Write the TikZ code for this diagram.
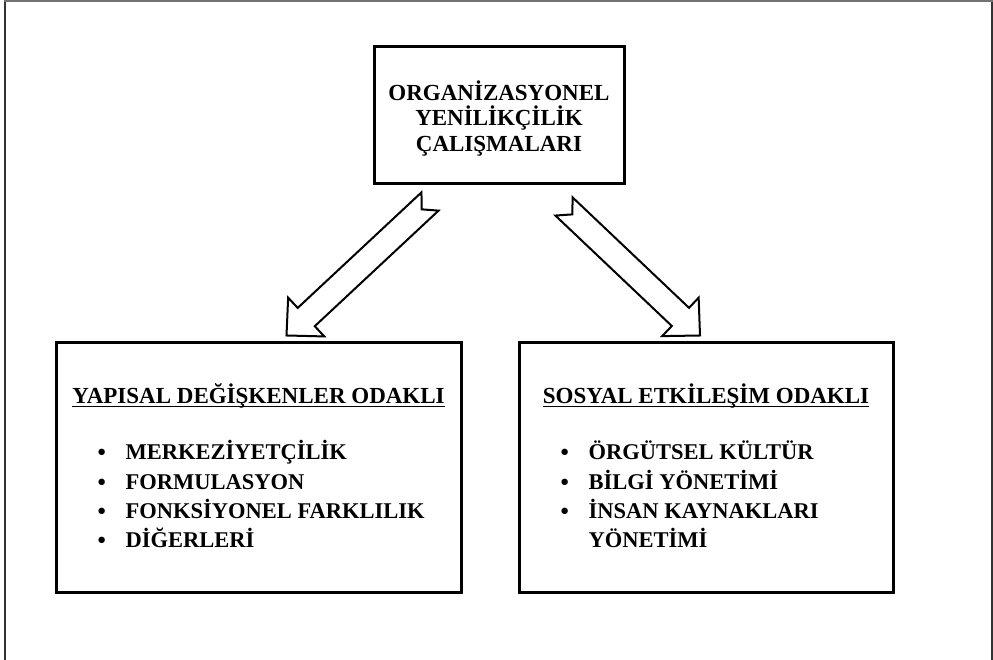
\documentclass[tikz,border=0pt]{standalone}
\usepackage{fontspec}
\setmainfont{Liberation Serif}
\usetikzlibrary{calc,positioning}

\tikzset{
  box/.style={draw=black, line width=3pt, fill=white, inner sep=0pt},
  boxtext/.style={font=\bfseries\fontsize{23}{25.8}\selectfont, align=center},
  heading/.style={font=\bfseries\fontsize{23}{27}\selectfont, inner sep=0pt, anchor=base},
  itemlist/.style={font=\bfseries\fontsize{22.5}{29.3}\selectfont, inner sep=0pt, anchor=base west},
  underline/.style={black, line width=1.5pt},
  blockarrow/.style={draw=black, line width=2pt, line join=miter, fill=white},
  frame/.style={line width=2pt, black!80},
}

% list bullet, centred on the capitals
\newcommand{\dotitem}{\raisebox{3pt}{\scalebox{0.8}{$\bullet$}}}

% notched block arrow from tail #1 to tip #2
\newcommand{\notchedarrow}[2]{%
  \coordinate (#1-head) at ($(#2)!27pt!(#1)$);
  \draw[blockarrow] ($(#1)!12.5pt!90:(#2)$) -- ($(#1)!11.5pt!(#2)$) -- ($(#1)!12.5pt!-90:(#2)$)
    -- ($(#1-head)!12.5pt!-90:(#2)$) -- ($(#1-head)!26.5pt!-90:(#2)$) -- (#2)
    -- ($(#1-head)!26.5pt!90:(#2)$) -- ($(#1-head)!12.5pt!90:(#2)$) -- cycle;
}

\begin{document}
\begin{tikzpicture}[x=1pt, y=1pt]
\useasboundingbox (0,0) rectangle (993,660);

% page frame
\draw[frame] (5,0) -- (5,659);
\draw[frame] (992,659) -- (992,0);
\draw[line width=2pt, black!55] (4,659) -- (993,659);

% boxes
\node[box, minimum width=250, minimum height=137] (orgbox) at (499,544.5) {};
\node[boxtext] (orgtext) at ($(orgbox.center)+(0,-3)$)
  {ORGANİZASYONEL\\YENİLİKÇİLİK\\ÇALIŞMALARI};
\node[box, minimum width=405, minimum height=250] (yapbox) at (258.5,192) {};
\node[box, minimum width=374, minimum height=250] (sosbox) at (706,192) {};

% headings
\node[heading] (yaphead) at ($(yapbox.north)+(0,-62)$) {YAPISAL DEĞİŞKENLER ODAKLI};
\node[heading] (soshead) at ($(sosbox.north)+(0,-62)$) {SOSYAL ETKİLEŞİM ODAKLI};
\draw[underline] ($(yaphead.base west)+(0,-3)$) -- ($(yaphead.base east)+(0,-3)$);
\draw[underline] ($(soshead.base west)+(0,-3)$) -- ($(soshead.base east)+(0,-3)$);

% lists
\node[itemlist] (yaplist) at ($(yapbox.north west)+(43,-118.4)$) {%
  \begin{tabular}[t]{@{}p{28pt}@{}l@{}}
  \dotitem & MERKEZİYETÇİLİK\\
  \dotitem & FORMULASYON\\
  \dotitem & FONKSİYONEL FARKLILIK\\
  \dotitem & DİĞERLERİ
  \end{tabular}};
\node[itemlist] (soslist) at ($(sosbox.north west)+(43,-118.4)$) {%
  \begin{tabular}[t]{@{}p{28pt}@{}l@{}}
  \dotitem & ÖRGÜTSEL KÜLTÜR\\
  \dotitem & BİLGİ YÖNETİMİ\\
  \dotitem & İNSAN KAYNAKLARI\\
   & YÖNETİMİ
  \end{tabular}};

% arrows
\coordinate (yaptail) at ($(orgbox.south)+(-69,-16)$);
\coordinate (yaptip) at ($(yapbox.north)+(28,6)$);
\coordinate (sostail) at ($(orgbox.south)+(65,-21)$);
\coordinate (sostip) at ($(sosbox.north)+(-6,6)$);
\notchedarrow{yaptail}{yaptip}
\notchedarrow{sostail}{sostip}
\end{tikzpicture}
\end{document}
